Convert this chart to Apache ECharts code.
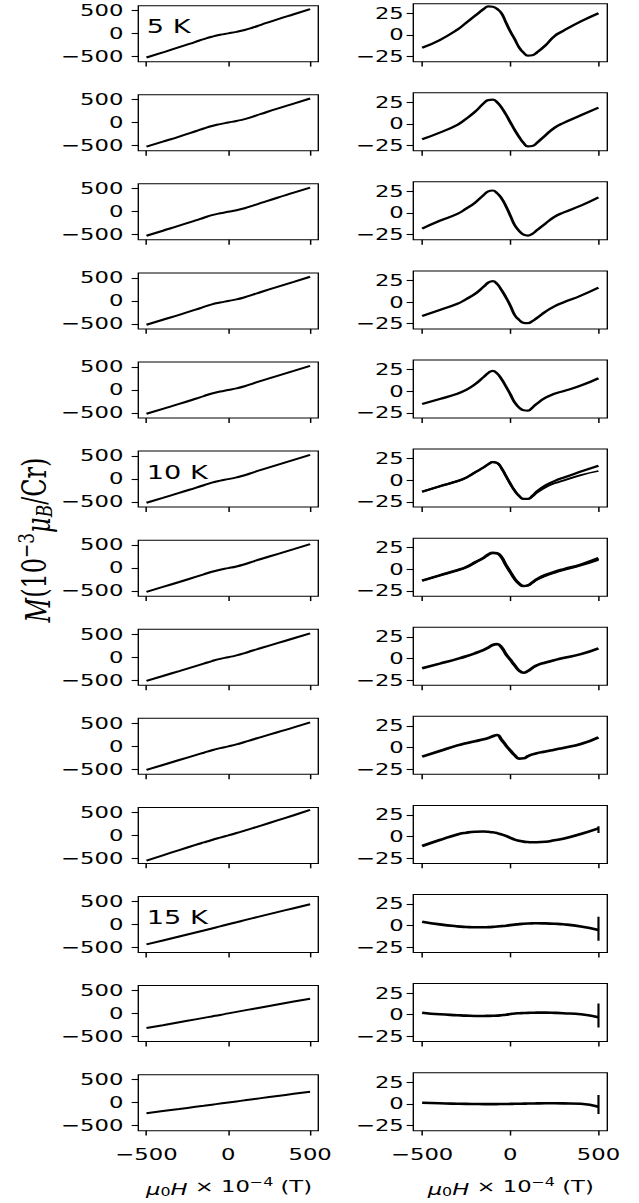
<!DOCTYPE html>
<html><head><meta charset="utf-8">
<script src="https://cdn.jsdelivr.net/npm/echarts@6/dist/echarts.min.js"></script>
<style>
html,body{margin:0;padding:0;background:#fff;overflow:hidden}
#wrap{width:639px;height:1203px;overflow:hidden;position:relative;background:#fff}
#chart{width:470px;height:1203px;transform:scaleX(1.359574);transform-origin:0 0;}
</style></head><body><div id="wrap"><div id="chart"></div></div>
<script>
// Field values (x 10^-4 T)
const H_LEFT = [-500,-400,-300,-200,-150,-100,-50,0,50,100,150,200,300,400,500];
const H_RIGHT = [-500,-400,-300,-250,-200,-150,-125,-100,-75,-50,-25,0,25,50,75,100,125,150,200,250,300,400,500];
const TEMP_LABELS = {0:'5 K',5:'10 K',10:'15 K'};
const X_TICKS = [-500,0,500];
const Y_TICKS_LEFT = [-500,0,500];
const Y_TICKS_RIGHT = [-25,0,25];

// Left column: M (10^-3 muB/Cr)
const mLeft05 = [-520,-410,-297,-180,-122,-69,-26,4,36,77,131,190,307,419,530];
const mLeft06 = [-523,-414,-304,-188,-128,-73,-32,2,36,75,130,189,304,414,524];
const mLeft07 = [-523,-413,-304,-190,-131,-75,-34,-3,30,75,132,190,304,413,523];
const mLeft08 = [-521,-413,-305,-193,-134,-77,-37,-4,30,77,133,191,303,412,522];
const mLeft09 = [-520,-413,-306,-194,-135,-78,-37,-4,32,79,137,195,303,411,520];
const mLeft10 = [-518,-411,-304,-193,-137,-80,-37,-4,33,80,139,196,306,414,522];
const mLeft11 = [-518,-411,-304,-194,-138,-82,-37,-3,34,83,140,196,303,410,518];
const mLeft12 = [-516,-410,-304,-196,-142,-86,-38,-2,37,87,144,197,304,409,517];
const mLeft13 = [-516,-408,-301,-195,-142,-88,-42,-4,38,91,145,197,303,408,517];
const mLeft14 = [-551,-436,-322,-210,-156,-103,-52,-2,49,102,155,210,322,435,550];
const mLeft15 = [-435,-351,-265,-178,-134,-89,-45,1,46,91,135,179,266,351,435];
const mLeft16 = [-318,-256,-193,-129,-97,-65,-33,1,34,66,98,130,194,257,317];
const mLeft17 = [-234,-187,-141,-94,-71,-47,-24,0,24,47,71,95,142,188,232];

// Right column: residual M (10^-3 muB/Cr)
const dRight05 = [-15,-6,6,14,22,30,33,32.5,30,25,14.5,4,-5,-14.5,-20.5,-24,-23.5,-20.5,-12,-1.5,4.5,15.5,25];
const dRight06 = [-17.7,-10,-1,6,14,24,27.5,28,25,19,11,2,-7,-15,-22,-26,-25.5,-22,-13,-4.5,1,10,18.8];
const dRight07 = [-18,-9,-1,5,12,21,25,26,23,17,8,-3,-14,-20.5,-25,-26,-24,-20,-12,-4.5,0.5,8.5,18];
const dRight08 = [-16,-9,-2,3.5,9.5,18,22.5,24.3,21,14,5.5,-4,-15,-20.5,-24,-24.3,-22,-18.5,-11,-5,-0.5,7.5,16.7];
const dRight09 = [-14.7,-9,-3,1.5,8,16.5,21,23.5,20.5,14,5.5,-3.5,-13,-19,-22,-22.5,-19,-14.5,-7.5,-3,0,6.5,15];
const dRight10 = [-13.2,-7,-1,3,9,15,18.5,21,20,14,5,-4,-12,-18,-21.5,-21.5,-18,-13,-6,-1,3,10,16.8];
const dRight10b = [-13.2,-7,-1,3,9,15,18.5,21,20,14,5,-4,-12,-18,-21.5,-21.5,-19,-14.5,-8,-3.5,-0.5,6,10.7];
const dRight11 = [-13,-7,-1,2.5,8,13.5,17,19,18.5,14,5,-3,-11,-16.5,-19.3,-18.5,-15,-11.5,-6.5,-3,0,5.5,12.8];
const dRight11b = [-13,-7,-1,2.5,8,13.5,17,19,18.5,14,5,-3,-11,-16.5,-19.3,-18.5,-15.5,-12,-7.5,-4,-1,4.5,11];
const dRight12 = [-11.4,-6,-0.5,2.5,6,10,12.5,15.5,16.5,13,5,-1.5,-8,-14,-16.5,-14.5,-11,-8,-4.7,-2,0.5,5,11.7];
const dRight13 = [-10.6,-4,2.5,5,7.3,9.5,11,13,14.5,9,2.5,-3.5,-9,-12.8,-12.5,-10,-8,-6.5,-4.7,-2.5,-0.5,4,11.8];
const dRight14 = [-10.9,-4,2.5,4.5,5.6,5.8,5.5,5,4,2.5,0.8,-1.5,-3.5,-4.8,-5.8,-6.3,-6.6,-6.6,-6,-4.3,-2.5,3,9.5];
const dRight15 = [4.6,1.5,-0.8,-1.5,-1.9,-1.9,-1.7,-1.4,-1,-0.5,0,0.6,1.2,1.8,2.2,2.5,2.7,2.8,2.6,2.2,1.6,-1,-5];
const dRight16 = [2.4,0.5,-0.5,-1,-1.4,-1.4,-1.3,-1.2,-1,-0.5,0,0.8,1.5,1.8,2,2.2,2.3,2.4,2.4,2.2,1.8,0.5,-2.9];
const dRight17 = [1.3,0.6,0.1,-0.1,-0.2,-0.3,-0.3,-0.3,-0.3,-0.2,-0.2,-0.1,0,0.1,0.2,0.3,0.4,0.5,0.6,0.6,0.5,0,-3.3];

// Vertical scatter at the field maximum (low, high)
const spike14 = [4,12];
const spike15 = [-17.4,10.3];
const spike16 = [-14.6,13.1];
const spike17 = [-11.8,10.2];

const LEFT_ROWS = [mLeft05,mLeft06,mLeft07,mLeft08,mLeft09,mLeft10,mLeft11,mLeft12,mLeft13,mLeft14,mLeft15,mLeft16,mLeft17];
const RIGHT_ROWS = [dRight05,dRight06,dRight07,dRight08,dRight09,dRight10,dRight11,dRight12,dRight13,dRight14,dRight15,dRight16,dRight17];
const RIGHT_EXTRA = {5:dRight10b, 6:dRight11b};
const SPIKES = {9:spike14,10:spike15,11:spike16,12:spike17};

const S = 639/470;
const chart = echarts.init(document.getElementById('chart'), null, {renderer:'svg', width:470, height:1203});
const minus = v => String(v).replace('-', '\u2212');
const FONT = 'DejaVu Sans';

const grids=[], xAxes=[], yAxes=[], series=[], graphics=[];
const L_LEFT = 138.3/S, L_W = (318.3-138.3)/S;
const R_LEFT = 413.3/S, R_W = (607.3-413.3)/S;
const L_H = 56, R_H = 58;
const B0 = 61.7, STEP = 89.08;

for (let r=0;r<13;r++){
  const bottom = B0 + r*STEP;
  const last = r===12;
  [[L_LEFT,L_W,L_H],[R_LEFT,R_W,R_H]].forEach(([gl,gw,gh],c)=>{
    const gi = grids.length;
    grids.push({left:gl, top:bottom-gh, width:gw, height:gh, show:true, borderColor:'#000', borderWidth:1, backgroundColor:'transparent'});
    xAxes.push({gridIndex:gi, type:'value', min:-550, max:550, position:'bottom',
      axisLine:{show:false, onZero:false},
      axisTick:{show:true, inside:false, length:4.9, lineStyle:{color:'#000', width:1.1}, customValues:X_TICKS},
      axisLabel:{show:last, customValues:X_TICKS, formatter:minus, color:'#000', fontSize:16.7, fontFamily:FONT, margin:15},
      splitLine:{show:false}});
    const yt = c===0?Y_TICKS_LEFT:Y_TICKS_RIGHT;
    yAxes.push({gridIndex:gi, type:'value', min:c===0?-612:-31, max:c===0?605:36, position:'left',
      axisLine:{show:false, onZero:false},
      axisTick:{show:true, inside:false, length:4.9, lineStyle:{color:'#000', width:1.1}, customValues:yt},
      axisLabel:{show:true, customValues:yt, formatter:minus, color:'#000', fontSize:16.7, fontFamily:FONT, margin:c===0?11:7},
      splitLine:{show:false}});
  });
  const li = 2*r, ri = 2*r+1;
  series.push({type:'line', xAxisIndex:li, yAxisIndex:li, data:H_LEFT.map((h,i)=>[h,LEFT_ROWS[r][i]]),
    showSymbol:false, smooth:0.5, lineStyle:{color:'#000', width:2}, animation:false, silent:true});
  const rw = r>=6 ? 2.6 : 2.2;
  series.push({type:'line', xAxisIndex:ri, yAxisIndex:ri, data:H_RIGHT.map((h,i)=>[h,RIGHT_ROWS[r][i]]),
    showSymbol:false, smooth:0.5, lineStyle:{color:'#000', width:rw}, animation:false, silent:true});
  if (RIGHT_EXTRA[r]) series.push({type:'line', xAxisIndex:ri, yAxisIndex:ri, data:H_RIGHT.map((h,i)=>[h,RIGHT_EXTRA[r][i]]),
    showSymbol:false, smooth:0.5, lineStyle:{color:'#000', width:1.8}, animation:false, silent:true});
  if (SPIKES[r]) series.push({type:'line', xAxisIndex:ri, yAxisIndex:ri, data:[[500,SPIKES[r][0]],[500,SPIKES[r][1]]],
    showSymbol:false, lineStyle:{color:'#000', width:1.6}, animation:false, silent:true});
  if (TEMP_LABELS[r]) graphics.push({type:'text', x:146.7/S, y:bottom-L_H+20.8,
    style:{text:TEMP_LABELS[r], fontSize:20, fontFamily:FONT, fill:'#000', textAlign:'left', textVerticalAlign:'middle', verticalAlign:'middle'}});
}

// axis titles
const xTitle = {text:'{i|\u03bc}{sub|0}{i|H} \u00d7 10{sup|\u22124} (T)',
  rich:{i:{fontStyle:'italic', fontSize:16.7, fontFamily:FONT, lineHeight:22, verticalAlign:'bottom'},
        sub:{fontSize:11.7, fontFamily:FONT, lineHeight:14, verticalAlign:'bottom'},
        sup:{fontSize:11.7, fontFamily:FONT, lineHeight:13, verticalAlign:'top'}},
  fontSize:16.7, fontFamily:FONT, fill:'#000', textAlign:'center', textVerticalAlign:'middle', verticalAlign:'middle', lineHeight:22};
graphics.push({type:'text', x:229/S, y:1187, style:Object.assign({}, xTitle)});
graphics.push({type:'text', x:510.7/S, y:1187, style:Object.assign({}, xTitle)});
graphics.push({type:'text', x:35/S, y:540, rotation:Math.PI/2,
  style:{text:'{i|M}(10{sup|\u22123}{i|\u03bc}{sub|B}/Cr)',
    rich:{i:{fontStyle:'italic', fontSize:24, fontFamily:'DejaVu Serif', lineHeight:30, verticalAlign:'bottom'},
          sub:{fontStyle:'italic', fontSize:17, fontFamily:'DejaVu Serif', lineHeight:18, verticalAlign:'bottom'},
          sup:{fontSize:17, fontFamily:'DejaVu Serif', lineHeight:17, verticalAlign:'top'}},
    fontSize:24, fontFamily:'DejaVu Serif', fill:'#000', textAlign:'center', textVerticalAlign:'middle', verticalAlign:'middle', lineHeight:30}});

chart.setOption({animation:false, backgroundColor:'#fff', grid:grids, xAxis:xAxes, yAxis:yAxes, series:series, graphic:graphics});
</script></body></html>
